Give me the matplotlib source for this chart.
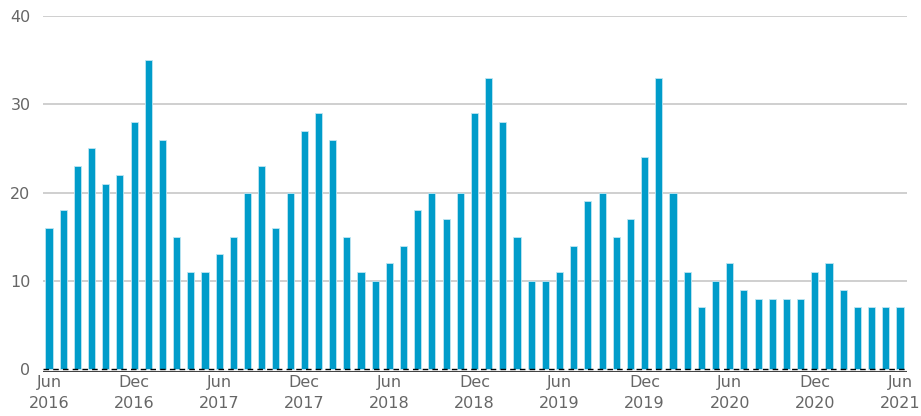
import numpy as np
import matplotlib
matplotlib.use("Agg")
import matplotlib.pyplot as plt

# monthly values, Jun 2016 .. Jun 2021
values = [
    16, 18, 23, 25, 21, 22, 28,
    35, 26, 15, 11, 11, 13, 15, 20, 23, 16, 20, 27,
    29, 26, 15, 11, 10, 12, 14, 18, 20, 17, 20, 29,
    33, 28, 15, 10, 10, 11, 14, 19, 20, 15, 17, 24,
    33, 20, 11, 7, 10, 12, 9, 8, 8, 8, 8, 11,
    12, 9, 7, 7, 7, 7,
]
tick_labels = ["Jun\n2016", "Dec\n2016", "Jun\n2017", "Dec\n2017", "Jun\n2018",
               "Dec\n2018", "Jun\n2019", "Dec\n2019", "Jun\n2020", "Dec\n2020",
               "Jun\n2021"]
y_ticks = [0, 10, 20, 30, 40]

bar_color = "#009cca"
text_color = "#666666"
grid_color = "#cccccc"

fig = plt.figure(figsize=(9.21, 4.16), dpi=100)
ax = fig.add_axes([0.0467, 0.106, 0.938, 0.8555])

x = np.arange(len(values))
ax.bar(x, values, width=0.5, color=bar_color, edgecolor="#bfe6f2", linewidth=0.6, zorder=3)

ax.set_xlim(-0.42, len(values) - 1 + 0.49)
ax.set_ylim(-0.3, 40)

ax.set_yticks(y_ticks)
for v in y_ticks[1:]:
    ax.axhline(v, color=grid_color, linewidth=1.3, zorder=1)
ax.axhline(0, color="black", linewidth=1.0, linestyle=(0, (4, 3)), zorder=4)
ax.axhline(-0.3, color="#444444", linewidth=1.5, zorder=4)

ax.set_xticks(x[::6])
ax.set_xticklabels(tick_labels, linespacing=1.55)

for s in ax.spines.values():
    s.set_visible(False)
ax.tick_params(axis="both", length=0, colors=text_color, labelsize=11.5)
ax.tick_params(axis="y", pad=9)
ax.tick_params(axis="x", pad=2)

fig.savefig("out.png", dpi=100)
